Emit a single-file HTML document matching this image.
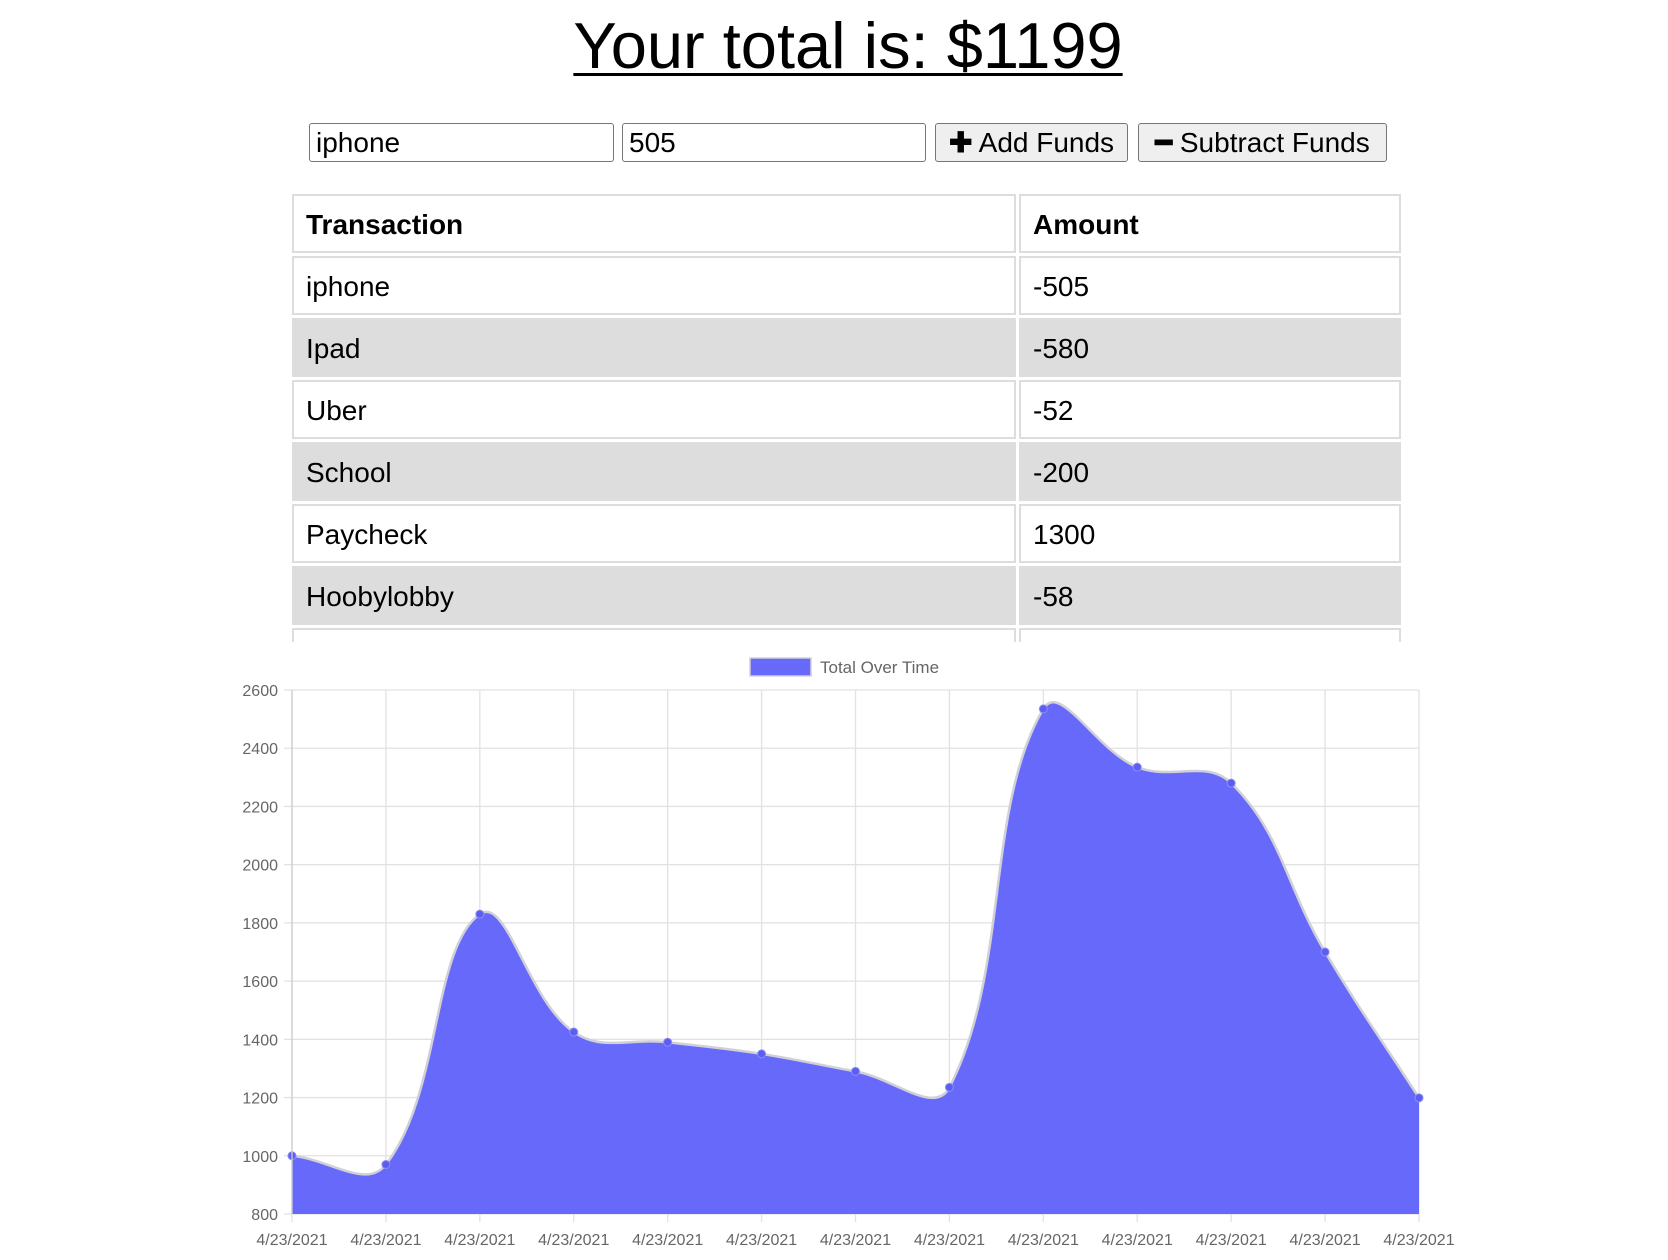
<!DOCTYPE html>
<html><head><meta charset="utf-8">
<style>
html,body{margin:0;padding:0;background:#fff;width:1668px;height:1260px;overflow:hidden;font-family:"Liberation Sans",Arial,sans-serif;}
#title{position:absolute;left:0;width:1696px;top:6px;text-align:center;font-size:65px;line-height:80px;text-decoration:underline;text-decoration-thickness:3px;text-underline-offset:5px;margin:0;font-weight:normal;}
.inp{position:absolute;top:123px;height:39px;box-sizing:border-box;border:1.5px solid #767676;border-radius:3px;font-size:28px;padding:0 6px;line-height:36px;font-family:inherit;}
.btn{position:absolute;top:123px;height:39px;box-sizing:border-box;border:1.5px solid #767676;border-radius:3px;background:#efefef;font-size:28px;line-height:36px;text-align:center;font-family:inherit;padding:0;}
#tablewrap{position:absolute;left:292px;top:194px;width:1112px;height:448px;overflow:hidden;}
table{border-collapse:separate;border-spacing:3px;width:1115px;margin:-3px 0 0 -3px;}
td,th{border:2px solid #ddd;height:59px;box-sizing:border-box;font-size:28px;text-align:left;padding:2px 12px 0 12px;}
tr.g td{background:#ddd;}
</style></head><body>
<h1 id="title">Your total is: $1199</h1>
<input class="inp" style="left:309px;width:305px" value="iphone">
<input class="inp" style="left:622px;width:304px" value="505">
<button class="btn" style="left:935px;width:193px"><b>✚</b> Add Funds</button>
<button class="btn" style="left:1138px;width:249px"><b>━</b> Subtract Funds</button>
<div id="tablewrap">
<table>
<tr><th style="width:724px">Transaction</th><th>Amount</th></tr>
<tr><td>iphone</td><td>-505</td></tr>
<tr class="g"><td>Ipad</td><td>-580</td></tr>
<tr><td>Uber</td><td>-52</td></tr>
<tr class="g"><td>School</td><td>-200</td></tr>
<tr><td>Paycheck</td><td>1300</td></tr>
<tr class="g"><td>Hoobylobby</td><td>-58</td></tr>
<tr><td>&nbsp;</td><td>&nbsp;</td></tr>
</table></div>
<svg id="chart" width="1668" height="1260" style="position:absolute;left:0;top:0"></svg>
<script>
const categories=["4/23/2021","4/23/2021","4/23/2021","4/23/2021","4/23/2021","4/23/2021","4/23/2021","4/23/2021","4/23/2021","4/23/2021","4/23/2021","4/23/2021","4/23/2021"];
const totals=[1000,970,1830,1425,1390,1350,1290,1235,2535,2335,2280,1700,1199];
const yTicks=[800,1000,1200,1400,1600,1800,2000,2200,2400,2600];
const NS="http://www.w3.org/2000/svg";
const svg=document.getElementById('chart');
const L=292,R=1419,T=690,B=1214,yMin=800,yMax=2600;
function xs(i){return L+(R-L)*i/(categories.length-1);}
function ys(v){return B-(v-yMin)/(yMax-yMin)*(B-T);}
function mk(t,a){const e=document.createElementNS(NS,t);for(const k in a)e.setAttribute(k,a[k]);svg.appendChild(e);return e;}
yTicks.forEach(v=>{
 const l=mk('line',{x1:L-8,x2:R,y1:ys(v),y2:ys(v),stroke:'#e2e2e2','stroke-width':1.3});
 
 
 const t=mk('text',{x:L-14,y:ys(v)+6,'text-anchor':'end','font-size':16,fill:'#666','font-family':'Liberation Sans, sans-serif'});
 t.textContent=v;
 
 
});
categories.forEach((c,i)=>{
 const l=mk('line',{x1:xs(i),x2:xs(i),y1:T,y2:B+8,stroke:'#e2e2e2','stroke-width':1.3});
 
 
 const t=mk('text',{x:xs(i),y:B+31,'text-anchor':'middle','font-size':16,fill:'#666','font-family':'Liberation Sans, sans-serif'});
 t.textContent=c;
 
 
});
const pts=totals.map((v,i)=>[xs(i),ys(v)]);
const tension=0.4;
function cps(p0,p1,p2){
 const d01=Math.hypot(p1[0]-p0[0],p1[1]-p0[1]),d12=Math.hypot(p2[0]-p1[0],p2[1]-p1[1]);
 let fa=d01/(d01+d12)||0,fb=d12/(d01+d12)||0;fa*=tension;fb*=tension;
 return [[p1[0]-fa*(p2[0]-p0[0]),p1[1]-fa*(p2[1]-p0[1])],[p1[0]+fb*(p2[0]-p0[0]),p1[1]+fb*(p2[1]-p0[1])]];
}
const C=pts.map((p,i)=>cps(pts[Math.max(0,i-1)],p,pts[Math.min(pts.length-1,i+1)]));
let d='M'+pts[0][0]+','+pts[0][1];
for(let i=1;i<pts.length;i++){const a=C[i-1][1],b=C[i][0];d+=` C${a[0]},${a[1]} ${b[0]},${b[1]} ${pts[i][0]},${pts[i][1]}`;}
const area=mk('path',{d:d+` L${R},${B} L${L},${B} Z`,fill:'#6669f9'});


const line=mk('path',{d:d,fill:'none',stroke:'#d0d0d8','stroke-width':2.5});


pts.forEach(p=>{
 const c=mk('circle',{cx:p[0],cy:p[1],r:4,fill:'#5b5ef0',stroke:'#8d8ff5','stroke-width':1});
 
 
});
mk('line',{x1:L,x2:L,y1:T,y2:B,stroke:'#ccc','stroke-width':1.3});
const lb=mk('rect',{x:750,y:658,width:61,height:18,fill:'#6669f9',stroke:'#d0d0d8','stroke-width':1.5});


const lt=mk('text',{x:820,y:673,'font-size':17,fill:'#666','font-family':'Liberation Sans, sans-serif'});
lt.textContent='Total Over Time';


</script>
</body></html>
